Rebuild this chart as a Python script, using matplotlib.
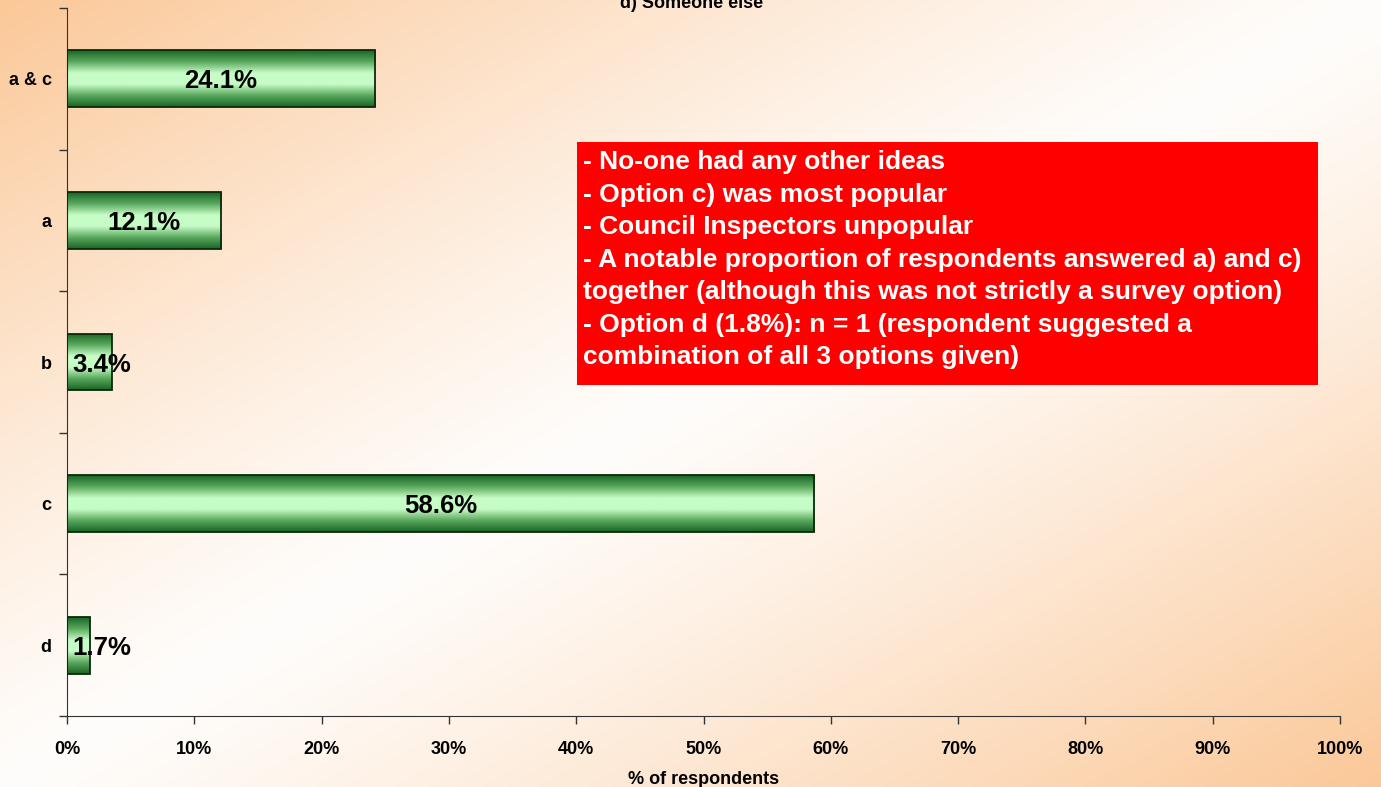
import numpy as np
import matplotlib
matplotlib.use("Agg")
import matplotlib.pyplot as plt
from matplotlib.colors import LinearSegmentedColormap

plt.rcParams['font.family'] = ['Liberation Sans', 'DejaVu Sans']

categories = ["a & c", "a", "b", "c", "d"]
values = [24.1, 12.1, 3.4, 58.6, 1.7]
bar_lengths = [24.2, 12.1, 3.5, 58.7, 1.8]
xticks = [0, 10, 20, 30, 40, 50, 60, 70, 80, 90, 100]
title = "d) Someone else"
xlabel = "% of respondents"
notes = ("- No-one had any other ideas\n"
         "- Option c) was most popular\n"
         "- Council Inspectors unpopular\n"
         "- A notable proportion of respondents answered a) and c)\n"
         "together (although this was not strictly a survey option)\n"
         "- Option d (1.8%): n = 1 (respondent suggested a\n"
         "combination of all 3 options given)")

W, H = 1381, 787
fig = plt.figure(figsize=(W / 100, H / 100), dpi=100)

# background gradient
bg = fig.add_axes([0, 0, 1, 1])
yy, xx = np.mgrid[0:1:300j, 0:1:500j]
t = (xx + yy) / 2.0
d = np.abs(2 * t - 1)
w = np.clip(d, 0, 1) ** 1.2
orange = np.array([251, 200, 152]) / 255.0
white = np.array([255, 253, 251]) / 255.0
img = white[None, None, :] * (1 - w[..., None]) + orange[None, None, :] * w[..., None]
bg.imshow(img, aspect='auto', extent=[0, 1, 0, 1], origin='upper')
bg.axis('off')

ax = fig.add_axes([67 / W, 1 - 716 / H, (1340 - 67) / W, (716 - 8) / H])
ax.patch.set_alpha(0)

n = len(categories)
ypos = np.arange(n)[::-1]
bars = ax.barh(ypos, bar_lengths, height=0.4, color='none', edgecolor='none', zorder=2)

green_cmap = LinearSegmentedColormap.from_list(
    "g", ["#1a6626", "#5aa85e", "#c6fcc6", "#c6fcc6", "#5aa85e", "#1a6626"])
grad = np.linspace(0, 1, 100).reshape(-1, 1)
for b in bars:
    x0, y0 = b.get_x(), b.get_y()
    wdt, hgt = b.get_width(), b.get_height()
    im = ax.imshow(grad, cmap=green_cmap, aspect='auto',
                   extent=[x0, x0 + wdt, y0, y0 + hgt], origin='lower', zorder=2)
    im.set_clip_path(b)
    ax.add_patch(plt.Rectangle((x0, y0), wdt, hgt, fill=False,
                               edgecolor='#0a2a0a', linewidth=1.3, zorder=3))

for yv, v, L in zip(ypos, values, bar_lengths):
    xc = max(L / 2, 2.7)
    ax.text(xc, yv, f"{v}%", ha='center', va='center_baseline', fontsize=18.5,
            fontweight='bold', color='black', zorder=4)

ax.set_xlim(0, 100)
ax.set_ylim(-0.5, n - 0.5)
ax.set_xticks(xticks)
ax.set_xticklabels([f"{x}%" for x in xticks], fontsize=13, fontweight='bold')
ax.set_yticks(ypos)
ax.set_yticklabels(categories, fontsize=13, fontweight='bold')
ax.set_yticks(np.arange(-0.5, n, 1.0), minor=True)
ax.tick_params(axis='y', which='major', length=0, pad=11)
ax.tick_params(axis='y', which='minor', length=6, color='#333333', width=1)
ax.tick_params(axis='x', length=6, color='#333333', width=1, pad=12)
for s in ['top', 'right']:
    ax.spines[s].set_visible(False)
for s in ['left', 'bottom']:
    ax.spines[s].set_color('#333333')
ax.set_xlabel(xlabel, fontsize=13, fontweight='bold', labelpad=9)

fig.text(692 / W, 1 - 3 / H, title, ha='center', va='center', fontsize=13, fontweight='bold')

# notes box
fig.patches.append(plt.Rectangle((577 / W, 1 - 385 / H), (1318 - 577) / W, (385 - 142) / H,
                                 transform=fig.transFigure, facecolor='#ff0000',
                                 edgecolor='none', zorder=5))
fig.text(583 / W, 1 - 150 / H, notes, ha='left', va='top', fontsize=19,
         fontweight='bold', color='white', linespacing=1.45, zorder=6)

fig.savefig("out.png", dpi=100)
